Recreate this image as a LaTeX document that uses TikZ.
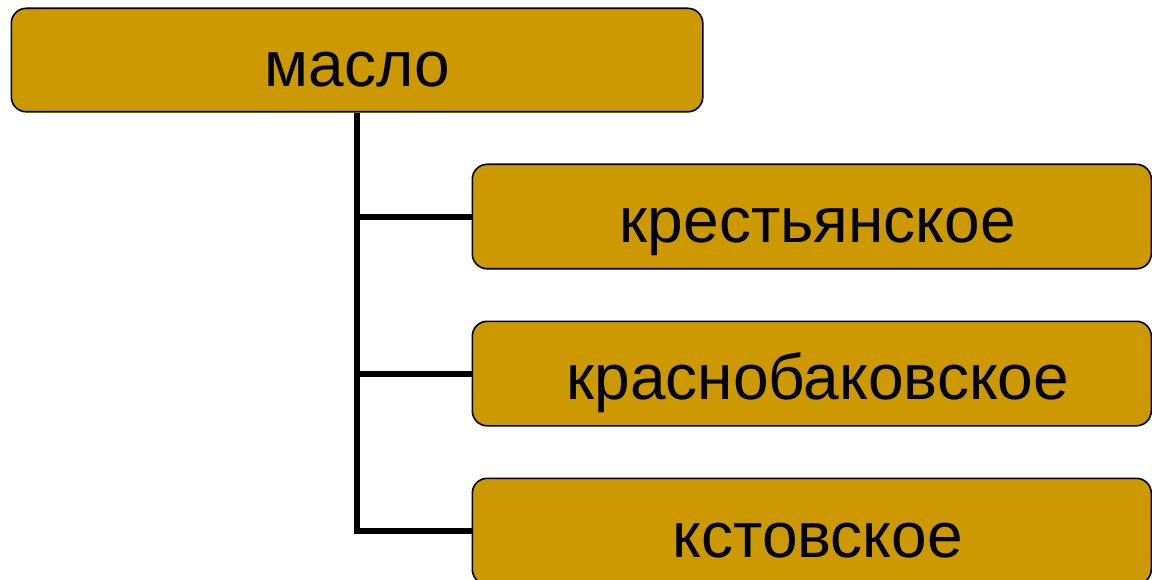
\documentclass[tikz,border=0pt]{standalone}
\usepackage{fontspec}
\setmainfont{Liberation Sans}
\definecolor{boxfill}{HTML}{CC9900}
\begin{document}
\begin{tikzpicture}[x=1pt,y=-1pt,
  box/.style={draw=black,line width=1.6pt,fill=boxfill,rounded corners=15pt,
    inner sep=0pt,anchor=north west,text height=52pt,text depth=0pt,
    font=\fontsize{64}{72}\selectfont},
  rbox/.style={box,minimum width=679pt,execute at begin node=\hspace*{12pt}},
  conn/.style={line width=6pt}]
\useasboundingbox (0,0) rectangle (1152,580);
\node[box,minimum width=691.5pt,minimum height=103.5pt] (top) at (10.5,7.5) {масло};
\node[rbox,minimum height=104.5pt] (b1) at (471.5,163.5) {крестьянское};
\node[rbox,minimum height=104.5pt] (b2) at (471.5,320.5) {краснобаковское};
\node[rbox,minimum height=106pt] (b3) at (471.5,477.5) {кстовское};
\coordinate (jx) at (357,0);
\draw[conn] (jx |- top.south) -- (jx |- b3.west) -- (b3.west);
\draw[conn] (jx |- b1.west) -- (b1.west);
\draw[conn] (jx |- b2.west) -- (b2.west);
\end{tikzpicture}
\end{document}
